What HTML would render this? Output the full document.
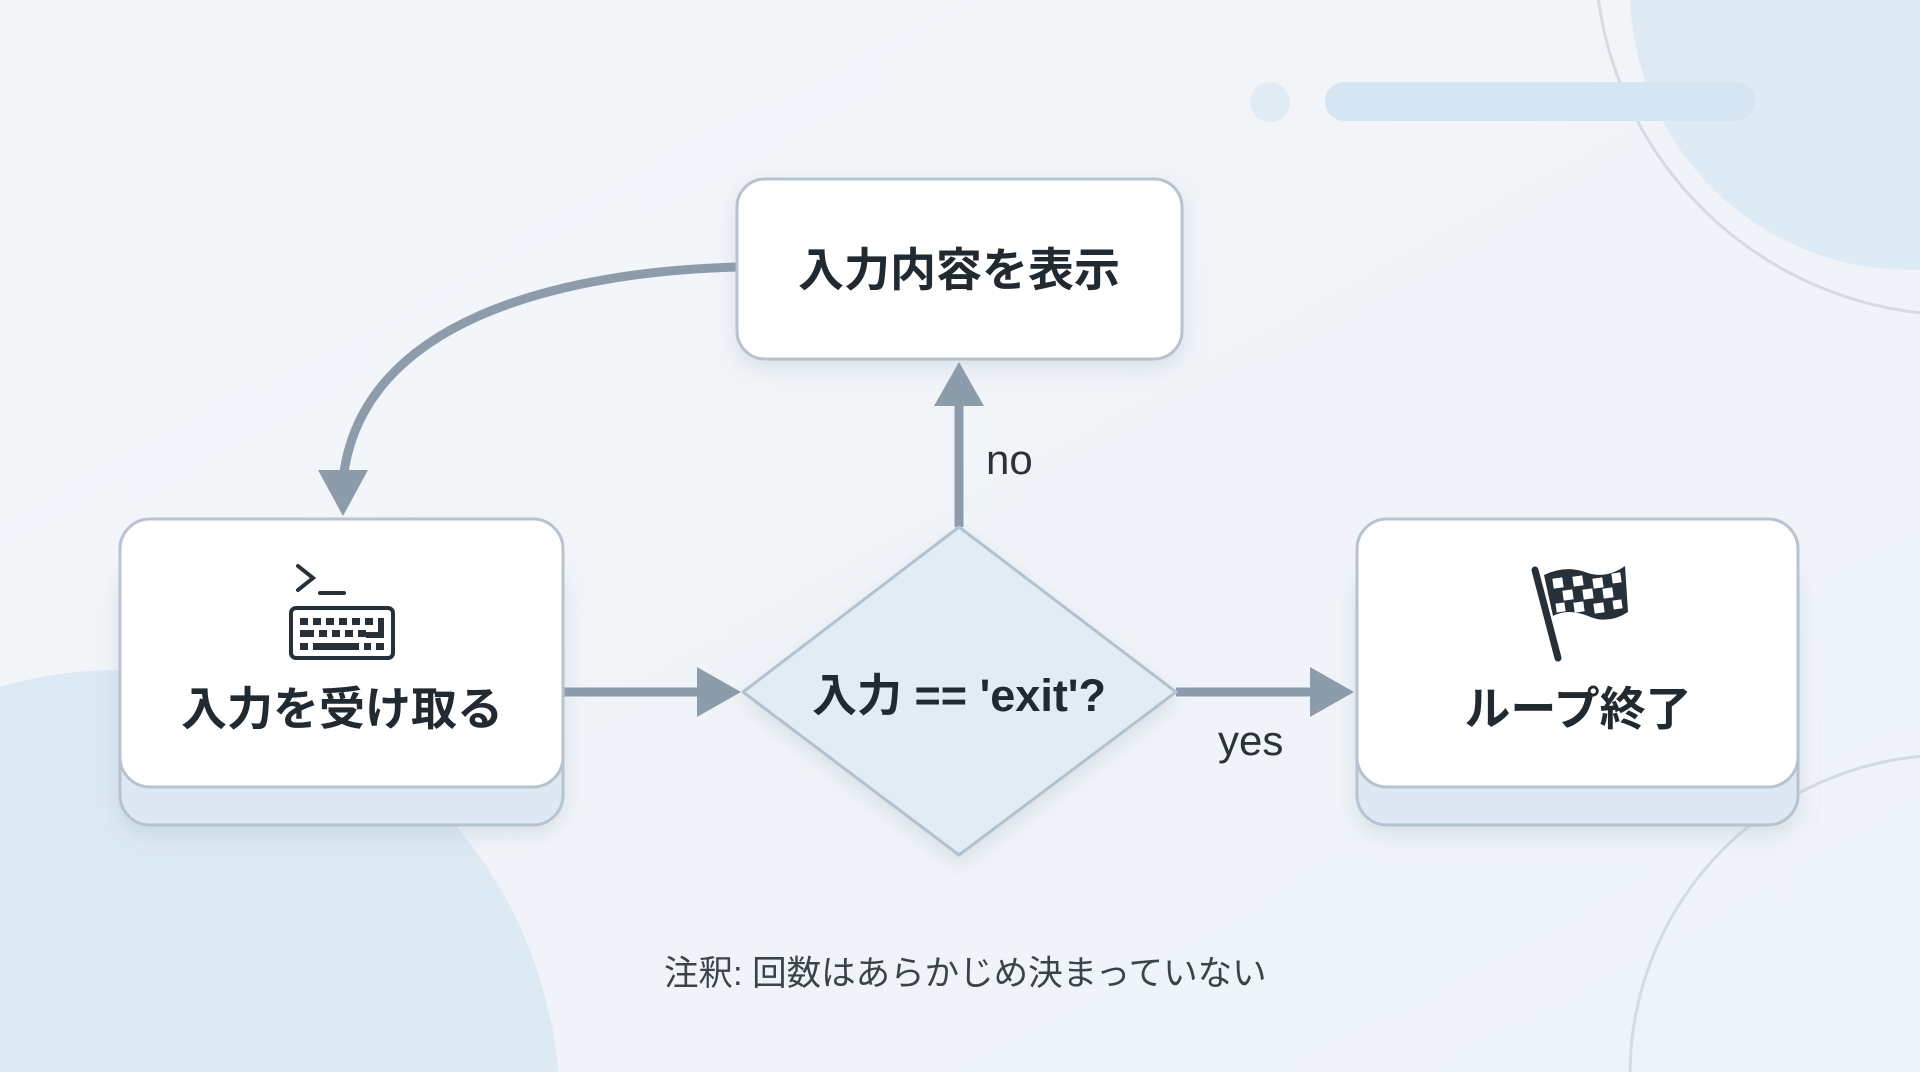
<!DOCTYPE html>
<html><head><meta charset="utf-8"><style>
html,body{margin:0;padding:0;width:1920px;height:1072px;overflow:hidden;background:#f2f6fa;}
svg{display:block}
text{font-family:"Liberation Sans","Noto Sans CJK JP",sans-serif;}
</style></head><body>
<svg width="1920" height="1072" viewBox="0 0 1920 1072" xmlns="http://www.w3.org/2000/svg" style="position:absolute;top:0;left:0">
<defs>
<linearGradient id="bg" x1="0" y1="0" x2="1" y2="1"><stop offset="0" stop-color="#f3f6f9"/><stop offset="1" stop-color="#eef3f8"/></linearGradient>
<filter id="sh" x="-20%" y="-20%" width="140%" height="150%"><feDropShadow dx="0" dy="8" stdDeviation="10" flood-color="#8aa0b5" flood-opacity="0.25"/></filter>
</defs>
<rect width="1920" height="1072" fill="url(#bg)"/>
<circle cx="1910" cy="-10" r="280" fill="#deebf4"/>
<circle cx="1960" cy="-50" r="365" fill="none" stroke="#d4dbe2" stroke-width="3"/>
<circle cx="120" cy="1110" r="440" fill="#dde9f3"/>
<circle cx="1950" cy="1075" r="320" fill="none" stroke="#d4dbe2" stroke-width="3"/>
<circle cx="1270" cy="102" r="20" fill="#e1ebf3"/>
<rect x="1325" y="82" width="430" height="39" rx="19.5" fill="#d5e5f1"/>

<g stroke="#8d9cab" stroke-width="9" fill="none">
<path d="M737 267 C560 272 360 320 343 480"/>
<line x1="563" y1="692" x2="705" y2="692"/>
<line x1="1176" y1="692" x2="1318" y2="692"/>
<line x1="959" y1="527" x2="959" y2="400"/>
</g>
<g fill="#8d9cab">
<polygon points="318,470 368,470 343,516"/>
<polygon points="697,667 741,692 697,717"/>
<polygon points="1310,667 1354,692 1310,717"/>
<polygon points="934,406 959,362 984,406"/>
</g>

<rect x="737" y="179" width="445" height="180" rx="28" fill="#fff" stroke="#b7c3cf" stroke-width="3" filter="url(#sh)"/>
<text x="959" y="286" text-anchor="middle" font-size="46" font-weight="bold" fill="#222a31">入力内容を表示</text>

<rect x="120" y="560" width="443" height="265" rx="30" fill="#dde8f2" stroke="#b7c3cf" stroke-width="3" filter="url(#sh)"/>
<rect x="120" y="519" width="443" height="268" rx="30" fill="#fff" stroke="#b7c3cf" stroke-width="3"/>
<g stroke="#263038" stroke-width="4" fill="none" stroke-linecap="round">
<polyline points="298,566 313,578 298,590"/>
<line x1="320" y1="593" x2="344" y2="593"/>
<rect x="291" y="608" width="102" height="50" rx="5"/>
</g>
<g fill="#263038">
<rect x="300" y="618" width="8" height="7"/><rect x="313" y="618" width="8" height="7"/><rect x="326" y="618" width="8" height="7"/><rect x="339" y="618" width="8" height="7"/><rect x="352" y="618" width="8" height="7"/><rect x="365" y="618" width="8" height="7"/><rect x="378" y="618" width="6" height="20"/>
<rect x="300" y="630" width="14" height="7"/><rect x="319" y="630" width="8" height="7"/><rect x="332" y="630" width="8" height="7"/><rect x="345" y="630" width="8" height="7"/><rect x="358" y="630" width="8" height="7"/><rect x="366" y="632" width="18" height="6"/>
<rect x="300" y="643" width="8" height="7"/><rect x="313" y="643" width="46" height="7"/><rect x="364" y="643" width="7" height="7"/><rect x="376" y="643" width="8" height="7"/>
</g>
<text x="342" y="725" text-anchor="middle" font-size="46" font-weight="bold" fill="#222a31">入力を受け取る</text>

<polygon points="959,527 1176,692 959,855 743,692" fill="#e1ecf5" stroke="#b3c2d0" stroke-width="3" stroke-linejoin="round" filter="url(#sh)"/>
<text x="959" y="711" text-anchor="middle" font-size="45" font-weight="bold" fill="#222a31">入力 == 'exit'?</text>

<rect x="1357" y="560" width="441" height="265" rx="30" fill="#dde8f2" stroke="#b7c3cf" stroke-width="3" filter="url(#sh)"/>
<rect x="1357" y="519" width="441" height="268" rx="30" fill="#fff" stroke="#b7c3cf" stroke-width="3"/>
<g>
<line x1="1535" y1="570" x2="1558" y2="658" stroke="#263038" stroke-width="7" stroke-linecap="round"/>
<path d="M1544 575 Q1565 565 1585 572 Q1605 580 1625 566 L1628 612 Q1608 625 1588 616 Q1568 608 1553 616 Z" fill="#263038"/>
<g fill="#fff">
<rect x="1553" y="578" width="10" height="10" transform="rotate(-8 1558 583)"/>
<rect x="1573" y="576" width="10" height="10" transform="rotate(-8 1578 581)"/>
<rect x="1593" y="578" width="10" height="10" transform="rotate(-8 1598 583)"/>
<rect x="1612" y="573" width="9" height="10" transform="rotate(-8 1616 578)"/>
<rect x="1563" y="590" width="10" height="10" transform="rotate(-8 1568 595)"/>
<rect x="1583" y="589" width="10" height="10" transform="rotate(-8 1588 594)"/>
<rect x="1603" y="588" width="10" height="10" transform="rotate(-8 1608 593)"/>
<rect x="1556" y="603" width="9" height="9" transform="rotate(-8 1560 607)"/>
<rect x="1574" y="602" width="10" height="10" transform="rotate(-8 1579 607)"/>
<rect x="1594" y="603" width="10" height="10" transform="rotate(-8 1599 608)"/>
<rect x="1613" y="600" width="9" height="9" transform="rotate(-8 1617 604)"/>
</g>
</g>
<text x="1578" y="725" text-anchor="middle" font-size="46" font-weight="bold" fill="#222a31">ループ終了</text>

<text x="986" y="474" font-size="42" fill="#2a323a">no</text>
<text x="1218" y="755" font-size="42" fill="#2a323a">yes</text>
<text x="664" y="985" font-size="34.5" fill="#3a434b">注釈: 回数はあらかじめ決まっていない</text>
</svg>
</body></html>
